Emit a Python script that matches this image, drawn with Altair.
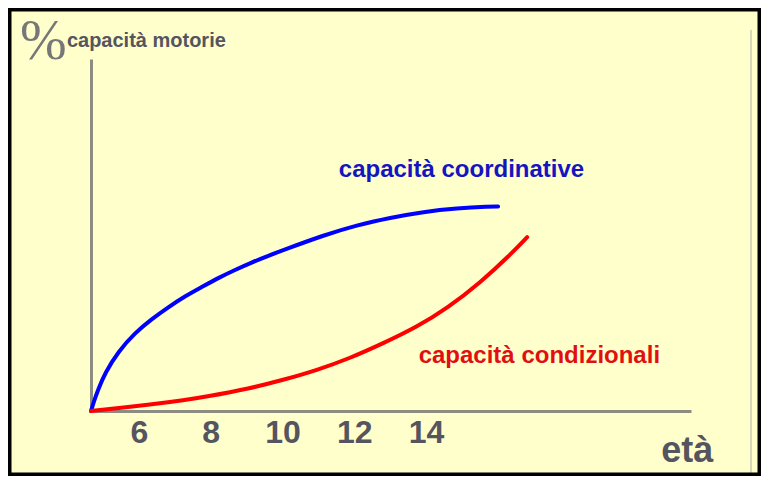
import altair as alt
import pandas as pd

# Curve data (age in years, % motor capacity)
blue_age = [4.662, 4.746, 4.857, 5.052, 5.423, 5.888, 6.354, 6.817, 7.282, 7.748,
            8.210, 8.676, 9.141, 9.604, 10.07, 11.14, 12.07, 13.00, 13.93, 14.86,
            15.78, 16.01]
blue_pct = [0.0, 2.8, 6.0, 10.8, 16.9, 22.2, 26.1, 29.5, 32.6, 35.2,
            37.8, 40.1, 42.2, 44.1, 45.9, 49.9, 52.8, 54.9, 56.6, 57.6,
            58.1, 58.1]

red_age = [4.66, 5.41, 6.36, 7.28, 7.84, 9.09, 10.01, 10.96, 11.88, 12.80, 13.75,
           14.59, 15.51, 16.43, 16.82]
red_pct = [0.0, 0.85, 1.85, 3.1, 4.0, 6.4, 8.8, 11.6, 15.0, 19.2, 23.9, 29.2,
           36.4, 45.2, 49.4]

tick_values = [6, 8, 10, 12, 14]

series_names = ["capacità coordinative", "capacità condizionali"]
series_colors = ["#0000FF", "#FF0000"]
label_colors = ["#1515C0", "#E01010"]
label_age = [14.99, 17.16]
label_pct = [66.5, 13.6]

x_title = "età"
y_title_sign = "%"
y_title = "capacità motorie"

X_DOMAIN = [4.662, 21.387]
Y_DOMAIN = [0, 100]

rows = []
for a, p in zip(blue_age, blue_pct):
    rows.append({"age": a, "pct": p, "serie": series_names[0]})
for a, p in zip(red_age, red_pct):
    rows.append({"age": a, "pct": p, "serie": series_names[1]})
df = pd.DataFrame(rows)

xs = alt.Scale(domain=X_DOMAIN, nice=False, zero=False)
ys = alt.Scale(domain=Y_DOMAIN, nice=False, zero=False)

# decorative frame and faint right rule
frame = alt.Chart(alt.Data(values=[{}])).mark_rect(
    fill=None, stroke="black", strokeWidth=5, clip=False
).encode(x=alt.value(-82), x2=alt.value(669), y=alt.value(-50), y2=alt.value(416))

faint = alt.Chart(alt.Data(values=[{}])).mark_rule(
    color="#D6D6BC", strokeWidth=2, clip=False
).encode(x=alt.value(660), y=alt.value(-29), y2=alt.value(420))

lines = alt.Chart(df).mark_line(strokeWidth=4, interpolate="basis", strokeCap="round").encode(
    x=alt.X("age:Q", scale=xs,
            axis=alt.Axis(values=tick_values, title=None, ticks=False, grid=False,
                          labelFont="Liberation Sans", labelFontSize=32, labelFontWeight="bold",
                          labelColor="#55555F", labelPadding=6, domainColor="#8C8C82",
                          domainWidth=3, labelFlush=False)),
    y=alt.Y("pct:Q", scale=ys,
            axis=alt.Axis(title=None, labels=False, ticks=False, grid=False,
                          domainColor="#8C8C82", domainWidth=3)),
    color=alt.Color("serie:N", scale=alt.Scale(domain=series_names, range=series_colors), legend=None),
    detail="serie:N",
)

lab_df = pd.DataFrame({"t": series_names, "age": label_age, "pct": label_pct, "c": label_colors})
labels = alt.Chart(lab_df).mark_text(
    font="Liberation Sans", fontSize=24, fontWeight="bold", align="center", baseline="alphabetic", clip=False
).encode(
    x=alt.X("age:Q", scale=xs), y=alt.Y("pct:Q", scale=ys),
    text="t:N", color=alt.Color("c:N", scale=None),
)

xt = alt.Chart(pd.DataFrame({"t": [x_title], "age": [21.28], "pct": [-14.5]})).mark_text(
    font="Liberation Sans", fontSize=36, fontWeight="bold", color="#55555F",
    align="center", baseline="alphabetic", clip=False
).encode(x=alt.X("age:Q", scale=xs), y=alt.Y("pct:Q", scale=ys), text="t:N")

yt = alt.Chart(pd.DataFrame({"t": [y_title], "age": [3.99], "pct": [103.4]})).mark_text(
    font="Liberation Sans", fontSize=20, fontWeight="bold", color="#55555F",
    align="left", baseline="alphabetic", clip=False
).encode(x=alt.X("age:Q", scale=xs), y=alt.Y("pct:Q", scale=ys), text="t:N")

ysign = alt.Chart(pd.DataFrame({"t": [y_title_sign], "age": [3.33], "pct": [100.0]})).mark_text(
    font="Liberation Serif", fontSize=56, color="#77777A",
    align="center", baseline="alphabetic", clip=False
).encode(x=alt.X("age:Q", scale=xs), y=alt.Y("pct:Q", scale=ys), text="t:N")

chart = alt.layer(faint, lines, labels, xt, yt, ysign, frame).properties(
    width=600, height=352,
    autosize=alt.AutoSizeParams(type="none"),
    padding={"left": 83, "top": 51, "right": 70, "bottom": 65},
).configure(background="#FFFFCC").configure_view(strokeWidth=0)

chart.save("out.html", embed_options={"renderer": "svg", "actions": False})
